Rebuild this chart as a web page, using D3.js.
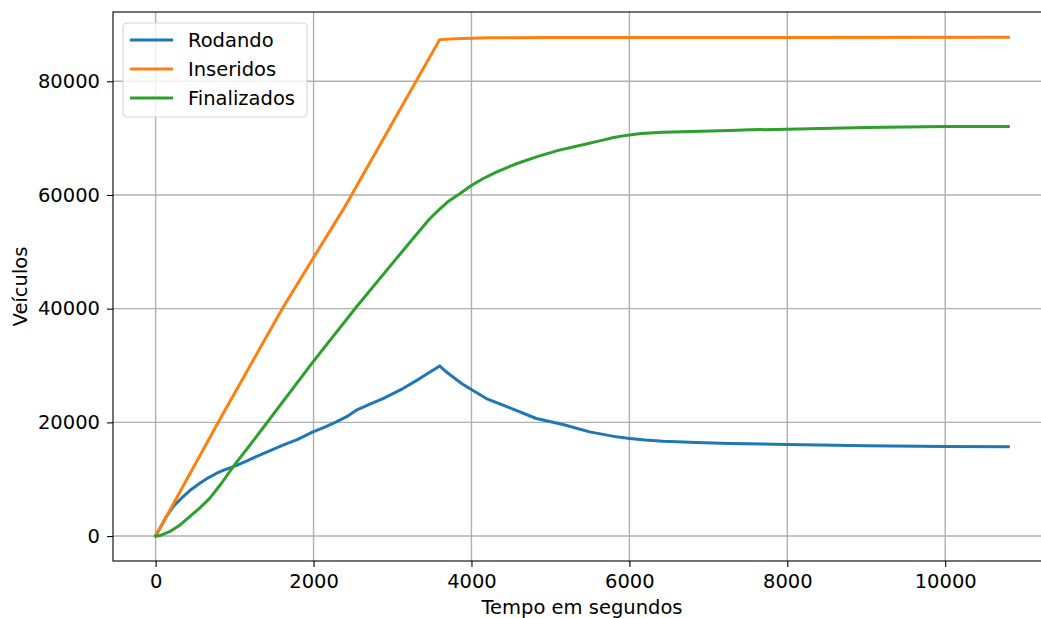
<!DOCTYPE html>
<html>
<head>
<meta charset="utf-8">
<script src="https://cdn.jsdelivr.net/npm/d3@7.9.0/dist/d3.min.js"></script>
<style>
  body { margin: 0; background: #fff; }
  svg { display: block; font-family: "DejaVu Sans", sans-serif; }
</style>
</head>
<body>
<svg id="chart" width="1041" height="618"></svg>
<script>
// time in seconds
const rodandoT = [0, 60, 135, 230, 346, 450, 560, 660, 768, 870, 980, 1150, 1317, 1613, 1800, 1993, 2150, 2288, 2420, 2542, 2700, 2879, 3132, 3344, 3597,
  3680, 3766, 3880, 3998, 4189, 4526, 4822, 5159, 5497, 5835, 6004, 6200, 6426, 6849, 7270, 8000, 9000, 10000, 10800];
const rodandoV = [0, 1500, 3400, 5300, 6910, 8200, 9300, 10200, 11010, 11650, 12180, 13200, 14230, 15990, 17000, 18330, 19200, 20090, 21000, 22140, 23100, 24190, 25950, 27700, 29930,
  28900, 27990, 26800, 25770, 24190, 22320, 20680, 19630, 18330, 17450, 17170, 16900, 16690, 16460, 16290, 16110, 15900, 15760, 15690];

const inseridosT = [0, 800, 1600, 2000, 2400, 3000, 3597, 3800, 4200, 5000, 7000, 10800];
const inseridosV = [0, 20200, 39900, 49000, 58000, 72700, 87330, 87500, 87650, 87700, 87720, 87740];

const finalizadosT = [0, 60, 177, 300, 431, 560, 684, 830, 980, 1200, 1402, 1993, 2542, 3048, 3300, 3471, 3597, 3700, 3851, 3998,
  4150, 4315, 4550, 4822, 5100, 5370, 5650, 5800, 5919, 6050, 6150, 6426, 7270, 7524, 8000, 9000, 10000, 10800];
const finalizadosV = [0, 100, 760, 1850, 3400, 4950, 6620, 9200, 12180, 16100, 19800, 30630, 40300, 48800, 53000, 55820, 57500, 58800, 60220, 61680,
  62900, 64020, 65400, 66700, 67850, 68710, 69600, 70100, 70400, 70650, 70800, 71040, 71340, 71460, 71570, 71850, 72040, 72040];

const xTicks = [0, 2000, 4000, 6000, 8000, 10000];
const yTicks = [0, 20000, 40000, 60000, 80000];

const series = [
  { name: 'Rodando', color: '#1f77b4', t: rodandoT, v: rodandoV },
  { name: 'Inseridos', color: '#ff7f0e', t: inseridosT, v: inseridosV },
  { name: 'Finalizados', color: '#2ca02c', t: finalizadosT, v: finalizadosV }
];

const svg = d3.select('#chart');
const axL = 113, axR = 1051, axT = 12, axB = 561;
const fs = 19.5;

const x = d3.scaleLinear().domain([-540, 11340]).range([axL, axR]);
const y = d3.scaleLinear().domain([-4390, 92190]).range([axB, axT]);

// grid
svg.append('g').selectAll('line').data(xTicks).join('line')
  .attr('x1', d => x(d)).attr('x2', d => x(d))
  .attr('y1', axT).attr('y2', axB)
  .attr('stroke', '#b0b0b0').attr('stroke-width', 1.4);
svg.append('g').selectAll('line').data(yTicks).join('line')
  .attr('x1', axL).attr('x2', axR)
  .attr('y1', d => y(d)).attr('y2', d => y(d))
  .attr('stroke', '#b0b0b0').attr('stroke-width', 1.4);

const line = d3.line().x(d => x(d[0])).y(d => y(d[1]));

series.forEach(s => {
  svg.append('path')
    .datum(s.t.map((t, i) => [t, s.v[i]]))
    .attr('d', line)
    .attr('fill', 'none')
    .attr('stroke', s.color)
    .attr('stroke-width', 3)
    .attr('stroke-linejoin', 'round')
    .attr('stroke-linecap', 'square');
});

// axes
const xAxis = d3.axisBottom(x).tickValues(xTicks).tickSize(6).tickPadding(7).tickFormat(d3.format('d'));
const yAxis = d3.axisLeft(y).tickValues(yTicks).tickSize(6).tickPadding(7).tickFormat(d3.format('d'));

const gx = svg.append('g').attr('transform', `translate(0,${axB})`).call(xAxis);
const gy = svg.append('g').attr('transform', `translate(${axL},0)`).call(yAxis);
[gx, gy].forEach(g => {
  g.select('.domain').remove();
  g.selectAll('line').attr('stroke', '#000').attr('stroke-width', 1.1);
  g.selectAll('text').attr('font-size', fs).attr('fill', '#000')
    .attr('font-family', '"DejaVu Sans", sans-serif');
});

// spines
svg.append('rect')
  .attr('x', axL).attr('y', axT)
  .attr('width', axR - axL).attr('height', axB - axT)
  .attr('fill', 'none').attr('stroke', '#000').attr('stroke-width', 1.1);

// labels
svg.append('text')
  .attr('x', x(5400)).attr('y', 614)
  .attr('text-anchor', 'middle').attr('font-size', fs)
  .text('Tempo em segundos');
svg.append('text')
  .attr('transform', `translate(27,${(axT + axB) / 2}) rotate(-90)`)
  .attr('text-anchor', 'middle').attr('font-size', fs)
  .text('Veículos');

// legend
const lg = svg.append('g').attr('transform', 'translate(123,23)');
lg.append('rect')
  .attr('width', 184).attr('height', 94).attr('rx', 4)
  .attr('fill', 'rgba(255,255,255,0.8)').attr('stroke', '#d6d6d6').attr('stroke-width', 1.1);
series.forEach((s, i) => {
  const yy = 17 + i * 29;
  lg.append('line')
    .attr('x1', 7).attr('x2', 50).attr('y1', yy).attr('y2', yy)
    .attr('stroke', s.color).attr('stroke-width', 3);
  lg.append('text')
    .attr('x', 65).attr('y', yy + 7)
    .attr('font-size', fs)
    .text(s.name);
});
</script>
</body>
</html>
